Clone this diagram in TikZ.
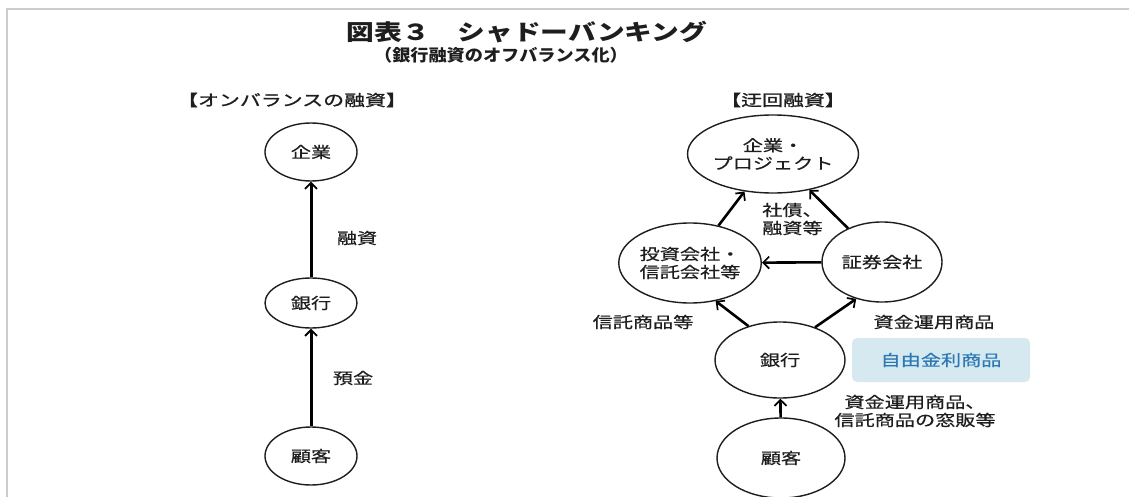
\documentclass[tikz,border=0pt]{standalone}
\usepackage{fontspec}
\usetikzlibrary{shapes.geometric,arrows.meta}
\newfontfamily\jp[FakeStretch=1.3,FakeBold=0.5]{Noto Sans CJK JP}
\newfontfamily\jpt[FakeStretch=1.26]{Noto Sans CJK JP}
\newfontfamily\jps[FakeStretch=1.1]{Noto Sans CJK JP}
\newfontfamily\jph[FakeStretch=1.35,FakeBold=1.2]{Noto Sans CJK JP}
\definecolor{txt}{HTML}{1E1E1E}
\definecolor{boxfill}{HTML}{D6E9F0}
\definecolor{boxtxt}{HTML}{2B78B5}
\begin{document}
\begin{tikzpicture}[x=1pt,y=-1pt,
  every node/.style={text=txt,font=\jp\fontsize{15.5}{18}\selectfont},
  ent/.style={ellipse,draw=txt,line width=1.4pt,inner sep=0pt,align=center},
  lab/.style={inner sep=0pt,align=center},
  thickarrow/.style={line width=3pt,-{Straight Barb[length=6pt,width=12pt,line width=1.8pt]}},
  arr/.style={line width=2.6pt,-{Straight Barb[length=6pt,width=12pt,line width=1.7pt]}}]
\useasboundingbox (0,0) rectangle (1129,497);
\fill[white] (0,0) rectangle (1129,497);
\draw[black!20,line width=1.5pt] (7,497) -- (7,9) -- (1129,9);

% titles
\node[lab,font=\jpt\bfseries\fontsize{22}{26}\selectfont] (title) at (527,32) {図表３　シャドーバンキング};
\node[lab,font=\jps\bfseries\fontsize{16.5}{19}\selectfont] (sub) at (501,55) {（銀行融資のオフバランス化）};
\node[lab,font=\jph\fontsize{15.5}{18}\selectfont] (hl) at (292,100) {【オンバランスの融資】};
\node[lab,font=\jph\fontsize{15.5}{18}\selectfont] (hr) at (783,100) {【迂回融資】};

% left column
\node[ent,minimum width=92pt,minimum height=58pt] (L1) at (311,152) {企業};
\node[ent,minimum width=92pt,minimum height=50pt] (L2) at (311,303) {銀行};
\node[ent,minimum width=92pt,minimum height=58pt] (L3) at (311,456) {顧客};
\draw[thickarrow] (L2) -- (L1);
\draw[thickarrow] (L3) -- (L2);
\node[lab] (yushi) at (357,238) {融資};
\node[lab] (yokin) at (353,378) {預金};

% right column
\node[ent,minimum width=117pt,minimum height=78pt] (R1) at (773,154) {企業・\\プロジェクト};
\node[ent,minimum width=126pt,minimum height=80pt] (R2) at (690,263) {投資会社・\\信託会社等};
\node[ent,minimum width=120pt,minimum height=80pt] (R3) at (882,262) {証券会社};
\node[ent,minimum width=130pt,minimum height=76pt] (R4) at (780,360) {銀行};
\node[ent,minimum width=128pt,minimum height=80pt] (R5) at (781,458) {顧客};

\draw[arr] (R2) -- (R1);
\draw[arr] (R3) -- (R1);
\draw[arr] (R3) -- (R2);
\draw[arr] (R4.133) -- (R2.-56);
\draw[arr] (R4.43) -- (R3.235);
\draw[arr] (R5) -- (R4);

\node[lab,align=left,anchor=west] (shasai) at (762,219) {社債、\\融資等};
\node[lab] (shintaku) at (643,322) {信託商品等};
\node[lab] (shikin) at (934,322) {資金運用商品};
\node[lab,fill=boxfill,rounded corners=5pt,minimum width=178pt,minimum height=44pt,text=boxtxt] (jiyu) at (941,360) {自由金利商品};
\node[lab] (madohan) at (915,411) {資金運用商品、\\信託商品の窓販等};
\end{tikzpicture}
\end{document}
